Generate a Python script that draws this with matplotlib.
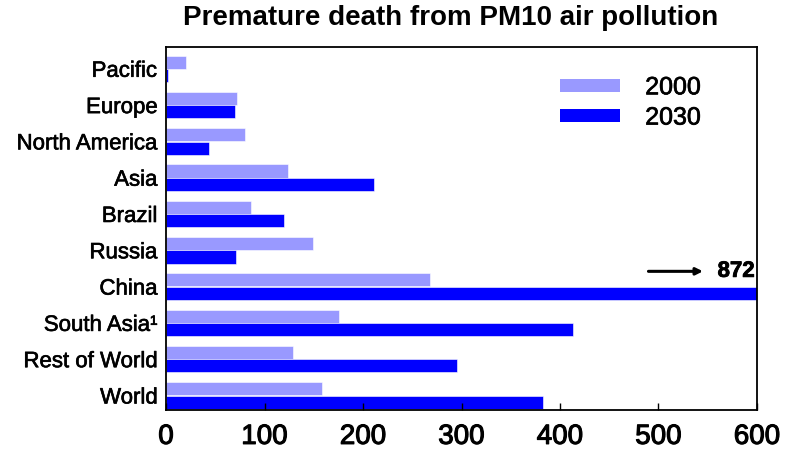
import numpy as np
import matplotlib.pyplot as plt
import matplotlib.patheffects as pe
from matplotlib.patches import Patch

plt.rcParams['font.family'] = ['Liberation Sans', 'DejaVu Sans']

regions = ['World', 'Rest of World', 'South Asia\u00b9', 'China', 'Russia',
           'Brazil', 'Asia', 'North America', 'Europe', 'Pacific']
deaths_2000 = [158, 129, 176, 268, 149, 86, 124, 80, 72, 20]
deaths_2030 = [383, 295, 413, 872, 71, 120, 211, 44, 70, 2]
china_2030 = 872

c2000 = '#9999ff'
c2030 = '#0000ff'

fig = plt.figure(figsize=(7.85, 4.52), dpi=100)
ax = fig.add_axes([0.2115, 0.0907, 0.7528, 0.8031])

y = np.arange(len(regions))
h = 0.36
ax.barh(y + h / 2 + 0.005, deaths_2000, height=h, color=c2000, edgecolor='white', linewidth=0.4)
ax.barh(y - h / 2 - 0.005, deaths_2030, height=h, color=c2030, edgecolor='white', linewidth=0.4)

ax.set_xlim(0, 600)
ax.set_ylim(-0.4, 9.6)
ax.set_yticks(y)
ax.set_yticklabels(regions, fontsize=16)
ax.tick_params(axis='y', length=0, pad=6)
ax.set_xticks([0, 100, 200, 300, 400, 500, 600])
ax.tick_params(axis='x', direction='in', length=5, width=1, labelsize=20, pad=10)
# slightly heavier strokes, like the original rendering
for lab in ax.get_yticklabels():
    lab.set_path_effects([pe.withStroke(linewidth=0.45, foreground='black')])
for lab in ax.get_xticklabels():
    lab.set_path_effects([pe.withStroke(linewidth=0.8, foreground='black')])
for s in ax.spines.values():
    s.set_linewidth(1.3)

# clipped China bar label
ax.annotate('', xy=(548, 3.42), xytext=(487, 3.42),
            arrowprops=dict(arrowstyle='-|>', color='black', lw=2.2, mutation_scale=10))
ax.text(560, 3.42, str(china_2030), fontsize=16, fontweight='bold', va='center', ha='left',
        path_effects=[pe.withStroke(linewidth=0.6, foreground='black')])

handles = [Patch(facecolor=c2000, edgecolor='none'), Patch(facecolor=c2030, edgecolor='none')]
leg = ax.legend(handles, ['2000', '2030'], loc='upper left', bbox_to_anchor=(0.667, 0.922),
                frameon=False, fontsize=18, handlelength=2.4, handleheight=0.45,
                handletextpad=1.0, labelspacing=0.25, borderpad=0, borderaxespad=0)
for t in leg.get_texts():
    t.set_path_effects([pe.withStroke(linewidth=0.5, foreground='black')])

fig.suptitle('Premature death from PM10 air pollution', fontsize=20, fontweight='bold',
             x=0.574, y=0.99, va='top')

plt.savefig('out.png', dpi=100)
